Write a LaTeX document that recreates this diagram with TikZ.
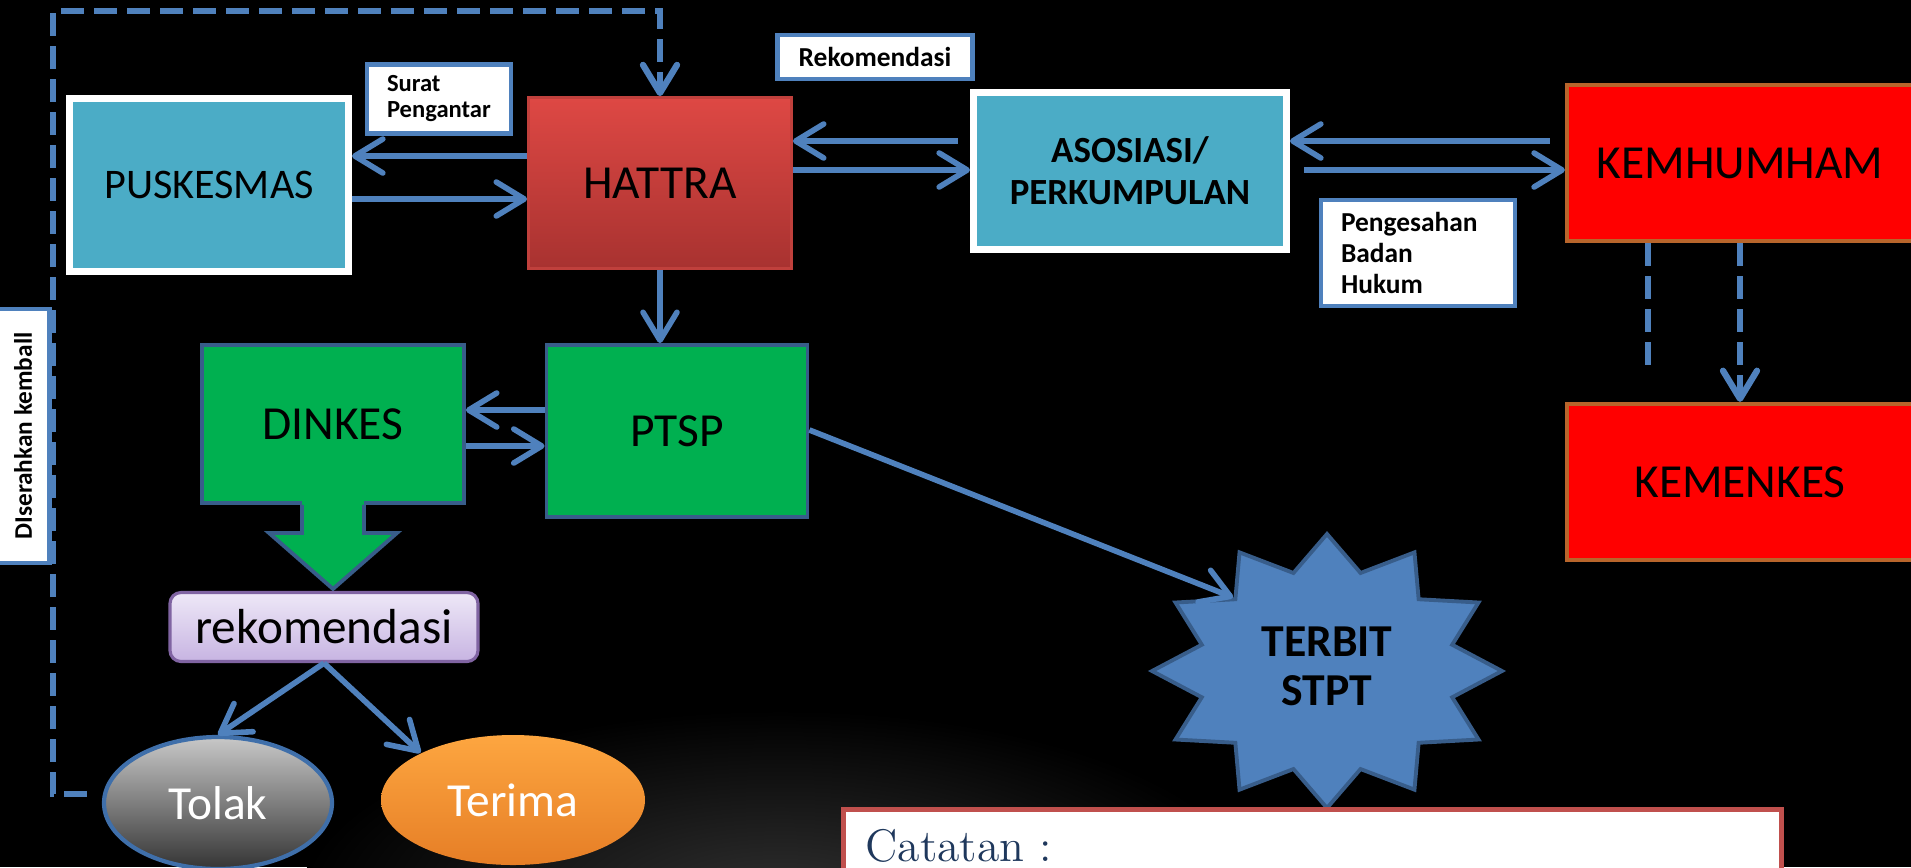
\documentclass[tikz,border=0pt]{standalone}
\usepackage{graphicx}
\usepackage{fontspec}
\newfontfamily\carlito{Carlito}
\usetikzlibrary{arrows.meta}
\usetikzlibrary{shapes.geometric}

\definecolor{lineblue}{RGB}{79,129,189}
\definecolor{tealfill}{RGB}{75,172,198}
\definecolor{greenfill}{RGB}{0,176,80}
\definecolor{greenedge}{RGB}{56,93,138}
\definecolor{kemred}{RGB}{255,0,0}
\definecolor{kemedge}{RGB}{184,101,43}
\definecolor{hattratop}{RGB}{222,72,68}
\definecolor{hattrabot}{RGB}{168,50,48}
\definecolor{hattraedge}{RGB}{192,64,60}
\definecolor{rekomtop}{RGB}{238,232,247}
\definecolor{rekombot}{RGB}{199,180,226}
\definecolor{rekomedge}{RGB}{128,100,162}
\definecolor{tolaktop}{RGB}{200,200,200}
\definecolor{tolakbot}{RGB}{52,52,52}
\definecolor{tolakedge}{RGB}{63,111,170}
\definecolor{terimatop}{RGB}{253,166,64}
\definecolor{terimabot}{RGB}{230,126,38}
\definecolor{stardark}{RGB}{56,93,138}
\definecolor{noteedge}{RGB}{192,80,77}
\definecolor{notetext}{RGB}{31,56,92}
\definecolor{glow}{RGB}{48,48,48}

\begin{document}
\begin{tikzpicture}[x=0.1mm, y=-0.1mm,
    flow/.style={draw=lineblue, line width=1.6pt, -{Straight Barb[length=2.8mm,width=3.4mm,round]}},
    backflow/.style={draw=lineblue, line width=1.8pt, dash pattern=on 2.3mm off 1mm, -{Straight Barb[length=2.8mm,width=3.4mm,round]}},
    tealbox/.style={draw=white, line width=2pt, fill=tealfill, inner sep=0pt},
    redbox/.style={draw=kemedge, line width=1.2pt, fill=kemred, minimum width=34.6mm, minimum height=15.6mm, font=\carlito\fontsize{13.5}{16}\selectfont},
    greenbox/.style={draw=greenedge, line width=1.1pt, fill=greenfill, font=\carlito\fontsize{13.5}{16}\selectfont},
    notebox/.style={draw=lineblue, line width=1.4pt, fill=white, font=\carlito\bfseries\fontsize{7.8}{8.7}\selectfont},
    choice/.style={ellipse, inner sep=0pt, text=white, font=\carlito\fontsize{13.5}{16}\selectfont}]

  % Latar
  \useasboundingbox (0,0) rectangle (1911,867);
  \clip (0,0) rectangle (1911,867);
  \fill[black] (0,0) rectangle (1911,867);
  \shade[inner color=glow, outer color=black] (780,900) ellipse (480 and 190);

  % Puskesmas - Hattra
  \node[tealbox, minimum width=27.9mm, minimum height=17.3mm, font=\carlito\fontsize{12}{14}\selectfont] (puskesmas) at (209,185) {PUSKESMAS};
  \node[draw=hattraedge, line width=0.8pt, top color=hattratop, bottom color=hattrabot, minimum width=26.3mm, minimum height=17.1mm, font=\carlito\fontsize{13.5}{16}\selectfont] (hattra) at (660,183) {HATTRA};
  \node[notebox, minimum width=14.4mm, minimum height=6.8mm, text width=10.4mm, inner xsep=2mm, align=left, font=\carlito\bfseries\fontsize{7}{7.4}\selectfont] (surat) at (439,99) {Surat\\Pengantar};

  % Asosiasi - Kemhumham
  \node[notebox, minimum width=19.5mm, minimum height=4.4mm] (rekomlabel) at (875,57) {Rekomendasi};
  \node[tealbox, minimum width=31.3mm, minimum height=15.7mm, align=center, font=\carlito\bfseries\fontsize{10.5}{12}\selectfont] (asosiasi) at (1130,171) {ASOSIASI/\\PERKUMPULAN};
  \node[notebox, minimum width=19.4mm, minimum height=10.6mm, text width=15.4mm, inner xsep=2mm, align=left] (pengesahan) at (1418,253) {Pengesahan\\Badan\\Hukum};
  \node[redbox] (kemhumham) at (1740,163) {KEMHUMHAM};
  \node[redbox] (kemenkes) at (1740,482) {KEMENKES};

  % Dinkes - PTSP
  \node[greenbox, minimum width=26.2mm, minimum height=15.8mm] (dinkes) at (333,424) {DINKES};
  \fill[greenfill] ([xshift=-3.1mm,yshift=1mm]dinkes.south) rectangle ([xshift=3.1mm]dinkes.south);
  \filldraw[fill=greenfill, draw=greenedge, line width=1.1pt] ([xshift=3.1mm]dinkes.south) -- ++(0,28) -- ++(33,0)
      -- ([yshift=-8.4mm]dinkes.south) -- ++(-64,-56) -- ++(33,0) -- ([xshift=-3.1mm]dinkes.south);
  \node[greenbox, minimum width=26.1mm, minimum height=17.2mm] (ptsp) at (677,431) {PTSP};

  % Rekomendasi, Tolak, Terima
  \node[draw=rekomedge, line width=0.9pt, rounded corners=1.1mm, top color=rekomtop, bottom color=rekombot, minimum width=30.8mm, minimum height=6.9mm, font=\carlito\fontsize{14}{16}\selectfont] (rekom) at (324,627) {rekomendasi};
  \node[choice, draw=tolakedge, line width=1.2pt, top color=tolaktop, bottom color=tolakbot, minimum width=22.8mm, minimum height=13.2mm] (tolak) at (218,803) {Tolak};
  \node[choice, top color=terimatop, bottom color=terimabot, minimum width=26.4mm, minimum height=13mm] (terima) at (513,800) {Terima};

  % Terbit STPT
  \node[star, star points=12, star point ratio=1.35, minimum size=27.4mm, inner sep=0pt, xscale=1.277, fill=lineblue, draw=stardark, line width=1.1pt,
        font=\carlito\bfseries\fontsize{13}{14.2}\selectfont] (terbit) at (1327,671) {\scalebox{0.783}[1]{\begin{tabular}{@{}c@{}}TERBIT\\STPT\end{tabular}}};

  % Catatan
  \node[draw=noteedge, line width=1.4pt, fill=white, anchor=north west, minimum width=93.8mm, text width=89.4mm, inner xsep=2.2mm, inner ysep=2mm,
        align=left, text=notetext, font=\fontsize{13}{15}\selectfont] (catatan) at (841,807) {Catatan :};

  % Diserahkan kembali
  \node[draw=lineblue, line width=1.2pt, fill=white, rotate=90, minimum width=25.4mm, minimum height=5.3mm, inner sep=0pt,
        font=\carlito\bfseries\fontsize{7.2}{8}\selectfont] (kembali) at (23,436) {DIserahkan kemball};

  % Panah
  \draw[flow] (hattra.west |- 0,156) -- (puskesmas.east |- 0,156);
  \draw[flow] (puskesmas.east |- 0,199) -- (hattra.west |- 0,199);
  \draw[flow, shorten <=1.2mm] (asosiasi.west |- 0,141) -- (hattra.east |- 0,141);
  \draw[flow] (hattra.east |- 0,170) -- (asosiasi.west |- 0,170);
  \draw[flow, shorten <=1.5mm] (kemhumham.west |- 0,141) -- (asosiasi.east |- 0,141);
  \draw[flow, shorten <=1.4mm] (asosiasi.east |- 0,170) -- (kemhumham.west |- 0,170);
  \draw[flow] (hattra.south) -- (hattra.south |- ptsp.north);
  \draw[flow] (ptsp.west |- 0,410) -- (dinkes.east |- 0,410);
  \draw[flow] (dinkes.east |- 0,446) -- (ptsp.west |- 0,446);
  \draw[flow] (ptsp.east |- 0,430) -- (terbit.inner point 2);
  \draw[flow] (rekom.south) -- (tolak.north);
  \draw[flow] (rekom.south) -- (terima.153);

  % Garis putus-putus
  \draw[backflow, shorten <=1.5mm] ([yshift=0.9mm]tolak.west) -| (53,11) -| (hattra.north);
  \draw[backflow] (kemhumham.south) -- (kemenkes.north);
  \draw[backflow, -] ([xshift=-9.2mm]kemhumham.south) -- ++(0,124);
\end{tikzpicture}
\end{document}
